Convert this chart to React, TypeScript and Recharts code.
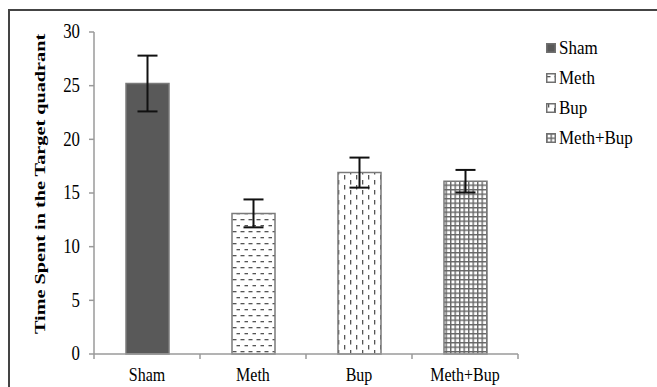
import React from "react";
import { BarChart, Bar, XAxis, YAxis, ErrorBar, Cell } from "recharts";

const categories = ["Sham", "Meth", "Bup", "Meth+Bup"];
const values = [25.2, 13.1, 16.9, 16.1];
const errors = [2.6, 1.3, 1.4, 1.05];
const yTicks = [0, 5, 10, 15, 20, 25, 30];
const fills = ["#595959", "url(#pMeth)", "url(#pBup)", "url(#pGrid)"];

const data = categories.map((c, i) => ({ name: c, value: values[i], err: errors[i] }));

const W = 657;
const H = 387;
const M = { top: 32, right: 139, bottom: 0, left: 0 };
const YW = 94;
const XH = 33;
const PLOT_W = W - M.left - M.right - YW;
const FONT = "'Liberation Serif', 'Times New Roman', serif";

const CatTick = (props: any) => {
  const { x, y, payload, index } = props;
  const bw = PLOT_W / categories.length;
  const lx = x - bw / 2;
  const ty = y + 27;
  return (
    <g>
      <line x1={lx} y1={y} x2={lx} y2={y + 5} stroke="#9a9a9a" strokeWidth={1.5} />
      {index === categories.length - 1 && (
        <line x1={x + bw / 2} y1={y} x2={x + bw / 2} y2={y + 5} stroke="#9a9a9a" strokeWidth={1.5} />
      )}
      <text
        x={0}
        y={0}
        transform={`translate(${x}, ${ty}) scale(1, 1.2)`}
        textAnchor="middle"
        fontFamily={FONT}
        fontSize={16}
        fill="#000"
      >
        {payload.value}
      </text>
    </g>
  );
};

const NumTick = (props: any) => {
  const { x, y, payload } = props;
  return (
    <text
      x={0}
      y={0}
      transform={`translate(${x}, ${y}) scale(1.05, 1.25)`}
      textAnchor="end"
      dominantBaseline="central"
      fontFamily={FONT}
      fontSize={16}
      fill="#000"
    >
      {payload.value}
    </text>
  );
};

const YLabel = (props: any) => {
  const vb = props.viewBox || { x: 0, y: 32, width: 94, height: 322 };
  const cx = vb.x + 40;
  const cy = vb.y + vb.height / 2 - 9;
  return (
    <text
      x={0}
      y={0}
      transform={`translate(${cx}, ${cy}) scale(1, 1.35) rotate(-90)`}
      textAnchor="middle"
      dominantBaseline="central"
      fontFamily={FONT}
      fontWeight="bold"
      fontSize={15}
      fill="#000"
    >
      Time Spent in the Target quadrant
    </text>
  );
};

const ChartLegend = () => (
  <div style={{ position: "absolute", left: 546, top: 33, fontFamily: FONT, fontSize: 17, color: "#000" }}>
    {categories.map((c, i) => (
      <div key={c} style={{ display: "flex", alignItems: "center", height: 30 }}>
        <svg width={10} height={10} style={{ marginRight: 3 }}>
          <rect x={0.75} y={0.75} width={8.5} height={8.5} fill={fills[i]} stroke="#707070" strokeWidth={1.5} />
        </svg>
        <span style={{ display: "inline-block", transform: "scaleY(1.15)" }}>{c}</span>
      </div>
    ))}
  </div>
);

export default function App() {
  return (
    <div style={{ position: "absolute", left: 0, top: 0, width: W, height: H, overflow: "hidden", background: "#fff" }}>
      <svg width={0} height={0} style={{ position: "absolute" }}>
        <defs>
          <pattern id="pMeth" patternUnits="userSpaceOnUse" width={8} height={12}>
            <rect width={8} height={12} fill="#fff" />
            <rect x={0.5} y={3} width={4} height={1.3} fill="#555" />
            <rect x={4.5} y={9} width={3.5} height={1.3} fill="#555" />
          </pattern>
          <pattern id="pBup" patternUnits="userSpaceOnUse" width={12} height={10}>
            <rect width={12} height={10} fill="#fff" />
            <rect x={2} y={0} width={1.3} height={4.5} fill="#555" />
            <rect x={8} y={5} width={1.3} height={4.5} fill="#555" />
          </pattern>
          <pattern id="pGrid" patternUnits="userSpaceOnUse" width={4.5} height={4.5}>
            <rect width={4.5} height={4.5} fill="#fff" />
            <rect x={0} y={0} width={1.4} height={4.5} fill="#666" />
            <rect x={0} y={0} width={4.5} height={1.4} fill="#666" />
          </pattern>
        </defs>
      </svg>
      <div
        style={{
          position: "absolute",
          left: 8,
          top: 9,
          width: 800,
          height: 600,
          border: "2px solid #444",
          boxSizing: "border-box",
        }}
      />
      <div style={{ position: "absolute", left: 0, top: 0 }}>
        <BarChart width={W} height={H} data={data} margin={M} barSize={43}>
          <XAxis
            dataKey="name"
            height={XH}
            tick={<CatTick />}
            tickLine={false}
            tickSize={0}
            tickMargin={0}
            axisLine={{ stroke: "#9a9a9a", strokeWidth: 1.5 }}
            interval={0}
          />
          <YAxis
            width={YW}
            domain={[0, 30]}
            ticks={yTicks}
            interval={0}
            tick={<NumTick />}
            tickLine={{ stroke: "#9a9a9a", strokeWidth: 1.5 }}
            tickSize={5}
            tickMargin={9}
            axisLine={{ stroke: "#9a9a9a", strokeWidth: 1.5 }}
            label={<YLabel />}
          />
          <Bar dataKey="value" stroke="#7a7a7a" strokeWidth={1.5} isAnimationActive={false}>
            {data.map((d, i) => (
              <Cell key={d.name} fill={fills[i]} />
            ))}
            <ErrorBar dataKey="err" width={10} stroke="#111" strokeWidth={2} />
          </Bar>
        </BarChart>
      </div>
      <ChartLegend />
    </div>
  );
}
